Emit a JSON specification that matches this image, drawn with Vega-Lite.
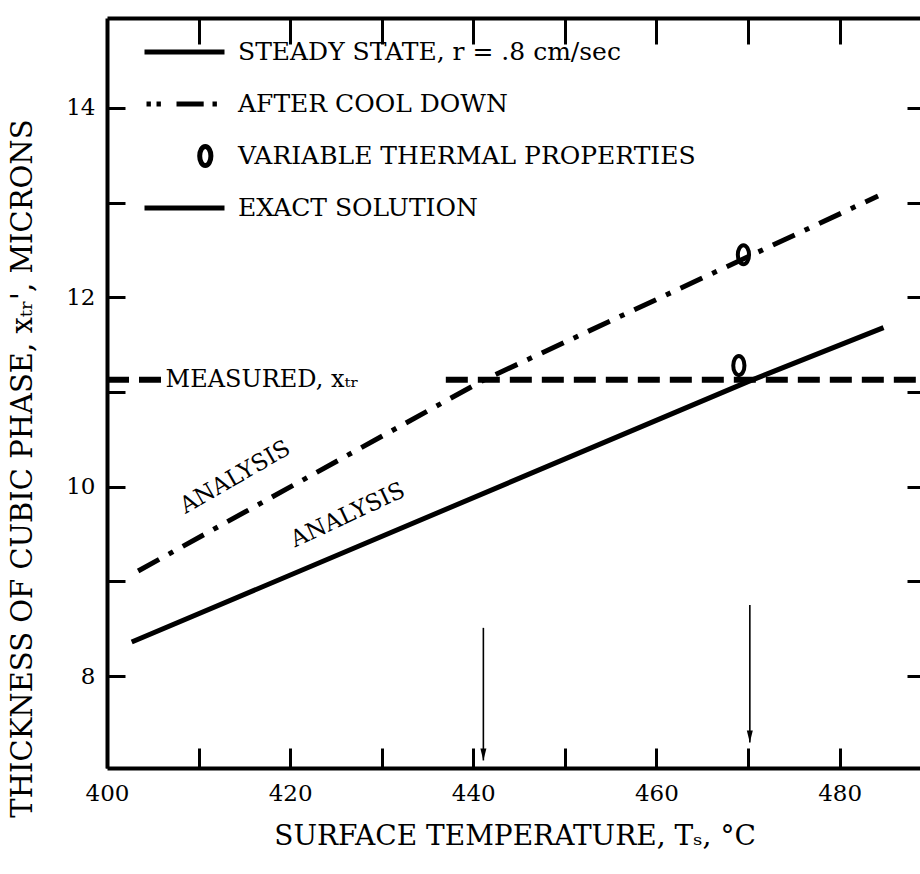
{
  "$schema": "https://vega.github.io/schema/vega-lite/v6.json",
  "autosize": {"type": "none"},
  "padding": {"left": 107, "top": 18, "right": 0, "bottom": 106},
  "width": 815,
  "height": 750,
  "background": "white",
  "config": {
    "view": {"stroke": null},
    "font": "DejaVu Serif",
    "mark": {"color": "black"},
    "axis": {
      "domainColor": "black", "domainWidth": 4, "tickColor": "black", "tickWidth": 3,
      "labelColor": "black", "titleColor": "black", "labelFont": "DejaVu Serif", "titleFont": "DejaVu Serif",
      "labelFontSize": 23, "titleFontSize": 28, "titleFontWeight": "normal", "grid": false
    }
  },
  "datasets": {
    "lines": [
      {"series": "steady", "seg": "s", "T": 402.7, "x": 8.36},
      {"series": "steady", "seg": "s", "T": 470.0, "x": 11.11},
      {"series": "steady", "seg": "s", "T": 484.8, "x": 11.68},
      {"series": "cool", "seg": "c", "T": 403.4, "x": 9.11},
      {"series": "cool", "seg": "c", "T": 441.0, "x": 11.12},
      {"series": "cool", "seg": "c", "T": 484.2, "x": 13.07},
      {"series": "measured", "seg": "a", "T": 400, "x": 11.13},
      {"series": "measured", "seg": "a", "T": 406.2, "x": 11.13},
      {"series": "measured", "seg": "b", "T": 437, "x": 11.13},
      {"series": "measured", "seg": "b", "T": 489, "x": 11.13}
    ],
    "vtp": [
      {"series": "VARIABLE THERMAL PROPERTIES", "T": 469.5, "x": 12.45},
      {"series": "VARIABLE THERMAL PROPERTIES", "T": 469.0, "x": 11.28}
    ],
    "arrows": [
      {"T": 441.1, "top": 8.51, "tip": 7.11},
      {"T": 470.2, "top": 8.75, "tip": 7.3}
    ]
  },
  "layer": [
    {
      "data": {"name": "lines"},
      "transform": [{"filter": "datum.series == 'steady'"}],
      "mark": {"type": "line", "strokeWidth": 5, "color": "black"},
      "encoding": {
        "x": {"field": "T", "type": "quantitative",
          "scale": {"domain": [400, 489], "nice": false, "zero": false},
          "axis": {"orient": "bottom", "values": [400, 410, 420, 430, 440, 450, 460, 470, 480],
            "labelExpr": "datum.value % 20 == 0 ? datum.label : ''",
            "tickSize": -20, "labelPadding": 34, "labelFlush": false, "labelOverlap": false,
            "title": "SURFACE TEMPERATURE, Tₛ, °C", "titlePadding": 17}},
        "y": {"field": "x", "type": "quantitative",
          "scale": {"domain": [7.03, 14.95], "nice": false, "zero": false},
          "axis": {"orient": "left", "values": [8, 9, 10, 11, 12, 13, 14],
            "labelExpr": "datum.value % 2 == 0 ? datum.label : ''",
            "tickSize": -18, "labelPadding": 30, "labelFlush": false, "labelOverlap": false,
            "title": "THICKNESS OF CUBIC PHASE, xₜᵣ', MICRONS", "titleFontSize": 29,
            "titleX": -85, "titleY": 450, "titleBaseline": "middle", "titleAngle": 270}}
      }
    },
    {
      "data": {"name": "lines"},
      "transform": [{"filter": "datum.series == 'cool'"}],
      "mark": {"type": "line", "strokeWidth": 5, "color": "black", "strokeDash": [24, 11, 5, 11]},
      "encoding": {
        "x": {"field": "T", "type": "quantitative",
          "axis": {"orient": "top", "values": [410, 420, 430, 440, 450, 460, 470, 480],
            "labels": false, "tickSize": -26, "title": null}},
        "y": {"field": "x", "type": "quantitative",
          "axis": {"orient": "right", "values": [8, 9, 10, 11, 12, 13, 14],
            "labels": false, "tickSize": -15, "title": null}}
      }
    },
    {
      "data": {"name": "lines"},
      "transform": [{"filter": "datum.series == 'measured'"}],
      "mark": {"type": "line", "strokeWidth": 6, "color": "black", "strokeDash": [22, 10]},
      "encoding": {
        "x": {"field": "T", "type": "quantitative", "axis": null},
        "y": {"field": "x", "type": "quantitative", "axis": null},
        "detail": {"field": "seg"}
      }
    },
    {
      "data": {"name": "vtp"},
      "mark": {"type": "point", "filled": false, "size": 6400, "strokeWidth": 4, "color": "black", "opacity": 1, "xOffset": -20.8},
      "encoding": {
        "x": {"field": "T", "type": "quantitative", "axis": null},
        "y": {"field": "x", "type": "quantitative", "axis": null},
        "shape": {"field": "series", "type": "nominal",
          "scale": {
            "domain": ["STEADY STATE, r = .8 cm/sec", "AFTER COOL DOWN", "VARIABLE THERMAL PROPERTIES", "EXACT SOLUTION"],
            "range": [
              "M-1,0L1,0",
              "M-0.95,0L-0.84,0M-0.7,0L-0.59,0M-0.2,0L0.48,0M0.7,0L0.81,0",
              "M0.52,-0.24A0.14,0.24 0 1 1 0.52,0.24A0.14,0.24 0 1 1 0.52,-0.24Z",
              "M-1,0L1,0"
            ]},
          "legend": {"orient": "none", "legendX": 35, "legendY": 8, "title": null,
            "symbolSize": 6400, "symbolStrokeWidth": 5, "symbolStrokeColor": "black", "symbolFillColor": "transparent",
            "labelFont": "DejaVu Serif", "labelFontSize": 25, "labelColor": "black", "labelLimit": 900,
            "labelOffset": 11, "clipHeight": 52, "rowPadding": 0, "padding": 0}}
      }
    },
    {
      "data": {"name": "arrows"},
      "mark": {"type": "rule", "strokeWidth": 1.6, "color": "black"},
      "encoding": {
        "x": {"field": "T", "type": "quantitative", "axis": null},
        "y": {"field": "top", "type": "quantitative", "axis": null},
        "y2": {"field": "tip"}
      }
    },
    {
      "data": {"name": "arrows"},
      "mark": {"type": "point", "shape": "M-0.5,-1L0.5,-1L0,1Z", "size": 144, "filled": true, "color": "black", "opacity": 1, "yOffset": -6},
      "encoding": {
        "x": {"field": "T", "type": "quantitative", "axis": null},
        "y": {"field": "tip", "type": "quantitative", "axis": null}
      }
    },
    {
      "data": {"values": [{"label": "MEASURED, xₜᵣ"}]},
      "mark": {"type": "text", "align": "left", "baseline": "middle", "fontSize": 24, "font": "DejaVu Serif", "color": "black"},
      "encoding": {
        "text": {"field": "label"},
        "x": {"datum": 406.4, "type": "quantitative", "axis": null},
        "y": {"datum": 11.13, "type": "quantitative", "axis": null}
      }
    },
    {
      "data": {"values": [{"label": "ANALYSIS"}]},
      "mark": {"type": "text", "align": "center", "baseline": "middle", "fontSize": 23, "font": "DejaVu Serif", "color": "black", "angle": 330},
      "encoding": {
        "text": {"field": "label"},
        "x": {"datum": 414, "type": "quantitative", "axis": null},
        "y": {"datum": 10.1, "type": "quantitative", "axis": null}
      }
    },
    {
      "data": {"values": [{"label": "ANALYSIS"}]},
      "mark": {"type": "text", "align": "center", "baseline": "middle", "fontSize": 23, "font": "DejaVu Serif", "color": "black", "angle": 335},
      "encoding": {
        "text": {"field": "label"},
        "x": {"datum": 426.3, "type": "quantitative", "axis": null},
        "y": {"datum": 9.7, "type": "quantitative", "axis": null}
      }
    }
  ],
  "resolve": {"axis": {"x": "independent", "y": "independent"}}
}
